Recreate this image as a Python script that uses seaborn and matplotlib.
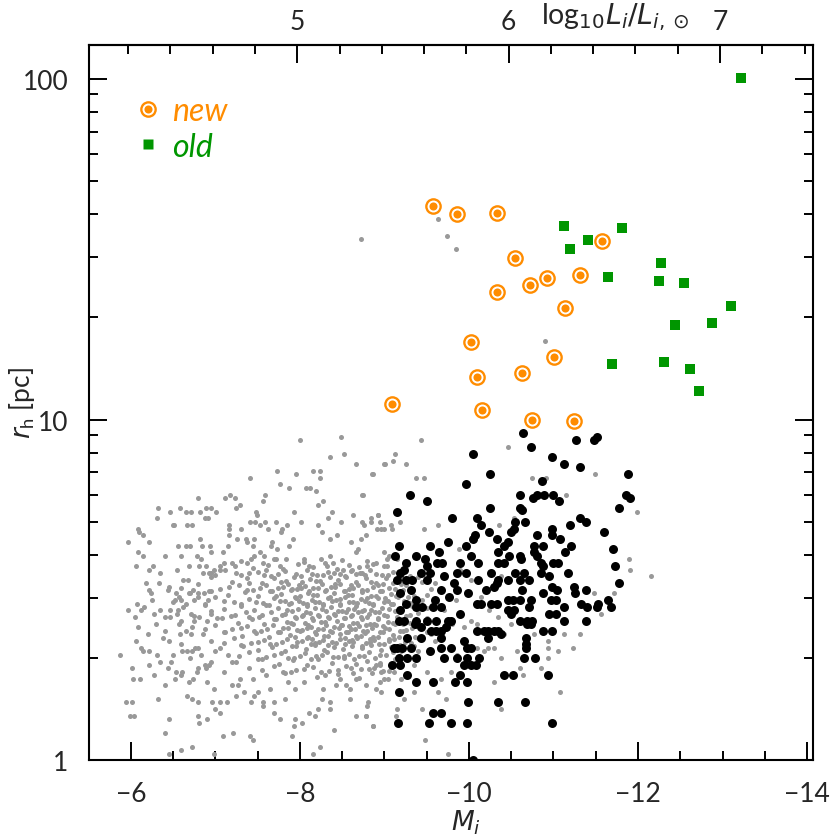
import numpy as np
import matplotlib
matplotlib.use('Agg')
import matplotlib.pyplot as plt
import seaborn as sns
from matplotlib.lines import Line2D
from matplotlib.ticker import FixedLocator, MultipleLocator, FuncFormatter

# ---- data: (M_i, log10 r_h) ----
# full comparison sample (grey dots)
gray_pts = [
    # sparse outskirts, upper part
    (-8.00, 0.94), (-8.49, 0.95), (-8.52, 0.90), (-8.36, 0.89), (-8.67, 0.87), (-9.01, 0.87),
    (-8.86, 0.84), (-8.16, 0.85), (-8.24, 0.85), (-8.24, 0.83), (-7.95, 0.84), (-7.73, 0.85),
    (-7.41, 0.83), (-7.77, 0.81), (-7.87, 0.80), (-8.07, 0.80), (-8.12, 0.80), (-8.19, 0.79),
    (-8.75, 0.78), (-8.28, 0.76), (-8.22, 0.75), (-8.38, 0.73), (-8.63, 0.72), (-7.93, 0.73),
    (-7.59, 0.78), (-7.57, 0.76), (-7.48, 0.73), (-7.49, 0.72), (-7.59, 0.70), (-7.72, 0.70),
    (-7.79, 0.68), (-7.78, 0.67), (-7.85, 0.69), (-7.92, 0.65), (-8.01, 0.70), (-8.21, 0.69),
    (-8.26, 0.67), (-8.33, 0.71), (-8.44, 0.66), (-8.36, 0.65), (-8.49, 0.70), (-8.73, 0.70),
    (-8.76, 0.69), (-8.84, 0.70), (-8.93, 0.72), (-8.95, 0.70), (-8.91, 0.68), (-8.99, 0.68),
    (-9.08, 0.69), (-8.78, 0.66), (-8.72, 0.65), (-8.60, 0.64), (-8.66, 0.61), (-8.69, 0.62),
    (-9.00, 0.61), (-9.05, 0.60), (-9.03, 0.57), (-7.11, 0.77), (-7.17, 0.78), (-7.23, 0.77),
    (-7.25, 0.74), (-7.29, 0.75), (-6.80, 0.77), (-6.32, 0.74), (-6.46, 0.73), (-6.58, 0.74),
    (-6.65, 0.73), (-6.71, 0.73), (-6.82, 0.73), (-6.89, 0.74), (-6.95, 0.74), (-7.01, 0.73),
    (-6.31, 0.71), (-6.51, 0.69), (-6.50, 0.69), (-6.67, 0.69), (-6.73, 0.69), (-6.88, 0.71),
    (-6.91, 0.71), (-7.16, 0.69), (-7.16, 0.68), (-7.16, 0.66), (-7.30, 0.68), (-7.41, 0.70),
    (-7.47, 0.70), (-7.53, 0.69), (-7.62, 0.68), (-6.09, 0.68), (-6.10, 0.67), (-5.97, 0.64),
    (-6.15, 0.66), (-6.22, 0.64), (-6.08, 0.61), (-6.14, 0.60), (-6.06, 0.57), (-6.26, 0.57),
    (-6.22, 0.56), (-6.34, 0.52), (-6.22, 0.50), (-6.24, 0.49), (-6.56, 0.63), (-6.65, 0.63),
    (-6.70, 0.63), (-6.82, 0.65), (-6.84, 0.63), (-6.94, 0.63), (-7.09, 0.61), (-7.15, 0.63),
    (-7.26, 0.65), (-7.36, 0.65), (-7.38, 0.64), (-7.45, 0.63), (-7.46, 0.65), (-7.53, 0.61),
    (-7.67, 0.64), (-7.66, 0.63), (-7.73, 0.62), (-7.87, 0.63), (-6.78, 0.60), (-6.83, 0.59),
    (-6.89, 0.57), (-6.69, 0.57), (-6.81, 0.57), (-6.98, 0.56), (-6.92, 0.55), (-6.95, 0.55),
    (-7.05, 0.56), (-7.10, 0.58), (-7.23, 0.57), (-7.37, 0.58), (-7.42, 0.59), (-7.46, 0.60),
    (-7.58, 0.60), (-7.57, 0.58), (-7.72, 0.59), (-7.77, 0.57), (-7.84, 0.59), (-8.05, 0.59),
    (-8.11, 0.57), (-8.25, 0.59), (-8.32, 0.57), (-8.36, 0.60), (-8.39, 0.58), (-8.51, 0.56),
    (-8.62, 0.56), (-8.73, 0.55), (-8.80, 0.57), (-8.90, 0.58), (-9.03, 0.59),
    # sparse outskirts, left and lower part
    (-5.97, 0.44), (-5.87, 0.31), (-6.02, 0.27), (-6.03, 0.24), (-6.11, 0.24), (-5.94, 0.17),
    (-6.02, 0.17), (-5.99, 0.13), (-6.04, 0.13), (-6.32, 0.18), (-6.22, 0.28), (-6.31, 0.31),
    (-6.41, 0.22), (-6.45, 0.12), (-6.41, 0.08), (-6.45, 0.02), (-6.60, 0.03), (-6.72, 0.04),
    (-6.99, 0.02), (-7.09, 0.07), (-7.21, 0.08), (-7.41, 0.07), (-7.45, 0.06), (-7.91, 0.07),
    (-8.15, 0.02), (-8.24, 0.04), (-8.40, 0.09), (-8.67, 0.13), (-8.78, 0.13), (-8.86, 0.10),
    (-6.05, 0.42), (-6.07, 0.46), (-6.16, 0.45), (-6.12, 0.44), (-6.08, 0.39), (-6.06, 0.35),
    (-6.12, 0.33), (-6.15, 0.32), (-6.22, 0.32), (-6.28, 0.43), (-6.35, 0.44), (-6.41, 0.42),
    (-6.46, 0.42), (-6.46, 0.44), (-6.56, 0.44), (-6.53, 0.49), (-6.57, 0.48), (-6.52, 0.47),
    (-6.60, 0.47), (-6.69, 0.49), (-6.74, 0.50), (-6.79, 0.49), (-6.87, 0.49), (-6.91, 0.47),
    (-6.80, 0.48), (-6.65, 0.46), (-6.71, 0.43), (-6.75, 0.41), (-6.81, 0.42), (-6.60, 0.41),
    (-6.58, 0.37), (-6.65, 0.38), (-6.71, 0.37), (-6.41, 0.38), (-6.45, 0.35), (-6.48, 0.29),
    (-6.54, 0.26), (-6.61, 0.26), (-6.60, 0.25), (-6.52, 0.24), (-6.44, 0.27), (-6.60, 0.34),
    (-6.61, 0.32), (-6.67, 0.32), (-6.73, 0.32), (-6.70, 0.30), (-6.76, 0.33), (-6.80, 0.33),
    (-6.83, 0.31), (-6.88, 0.28), (-6.92, 0.28), (-6.95, 0.29), (-6.89, 0.27), (-6.80, 0.27),
    (-6.78, 0.26), (-6.74, 0.24), (-6.69, 0.23), (-6.67, 0.19), (-6.73, 0.18), (-6.79, 0.17),
    (-6.79, 0.13), (-6.81, 0.11), (-6.90, 0.12), (-6.96, 0.17), (-6.99, 0.21), (-7.00, 0.15),
    (-7.05, 0.17), (-7.05, 0.14), (-7.14, 0.17), (-7.25, 0.19), (-7.34, 0.20), (-7.29, 0.24),
    (-7.27, 0.22), (-7.42, 0.17), (-7.46, 0.19), (-7.51, 0.20), (-7.56, 0.17), (-7.56, 0.16),
    (-7.69, 0.17), (-7.70, 0.14), (-7.76, 0.12), (-7.83, 0.18), (-7.86, 0.23), (-7.94, 0.21),
    (-7.94, 0.12), (-7.93, 0.10), (-8.03, 0.11), (-8.11, 0.14), (-8.18, 0.13), (-8.21, 0.15),
    (-8.26, 0.18), (-8.28, 0.21), (-8.36, 0.17), (-8.36, 0.15), (-8.43, 0.22), (-8.47, 0.24),
    (-8.59, 0.18), (-8.59, 0.21), (-8.67, 0.24), (-8.61, 0.27), (-8.78, 0.22), (-8.81, 0.17),
    (-8.90, 0.21), (-8.95, 0.23), (-8.99, 0.24),
    (-6.30, 0.40), (-6.38, 0.36), (-6.25, 0.47), (-6.44, 0.50), (-6.35, 0.55), (-6.55, 0.56),
    (-6.68, 0.53), (-6.50, 0.31), (-6.35, 0.29), (-6.20, 0.37), (-6.28, 0.25), (-6.90, 0.23),
    (-7.10, 0.26), (-7.20, 0.29), (-7.00, 0.32), (-6.95, 0.43), (-6.57, 0.40), (-6.18, 0.52),
    (-6.40, 0.60), (-6.60, 0.60), (-6.95, 0.61), (-7.25, 0.55), (-7.40, 0.52), (-7.60, 0.56),
    (-7.20, 0.22), (-7.45, 0.24), (-7.65, 0.21), (-7.80, 0.26), (-8.05, 0.23), (-8.30, 0.25),
    (-8.55, 0.22), (-8.95, 0.28), (-9.20, 0.24), (-9.40, 0.32), (-9.60, 0.35), (-9.70, 0.44),
    (-9.85, 0.47), (-9.60, 0.52), (-9.80, 0.40),
    # grey dots among the black ones
    (-9.43, 0.94), (-9.12, 0.90), (-9.10, 0.88), (-9.00, 0.87), (-9.26, 0.87), (-8.85, 0.84),
    (-9.38, 0.83), (-9.47, 0.83), (-8.74, 0.78), (-10.46, 0.92), (-10.75, 0.83), (-10.91, 0.83),
    (-11.15, 0.78), (-11.49, 0.84), (-11.99, 0.73), (-12.15, 0.54), (-11.89, 0.59), (-11.90, 0.56),
    (-8.92, 0.72), (-8.84, 0.71), (-8.96, 0.68), (-9.09, 0.68), (-9.19, 0.70), (-9.47, 0.68),
    (-9.64, 0.69), (-9.88, 0.62), (-10.36, 0.69), (-10.53, 0.71), (-9.90, 0.56), (-10.38, 0.54),
    (-10.02, 0.53), (-10.14, 0.48), (-10.24, 0.44), (-10.34, 0.42), (-10.02, 0.41), (-10.10, 0.40),
    (-9.94, 0.39), (-10.42, 0.37), (-10.50, 0.40), (-10.22, 0.33), (-10.30, 0.33), (-10.38, 0.30),
    (-10.57, 0.32), (-10.93, 0.30), (-11.05, 0.32), (-11.23, 0.33), (-11.08, 0.20), (-10.30, 0.23),
    (-10.38, 0.15), (-9.73, 0.18), (-9.44, 0.15), (-9.75, 0.02), (-9.48, 0.06), (-9.15, 0.15),
    (-9.14, 0.13), (-8.86, 0.10), (-8.80, 0.16), (-8.78, 0.13), (-8.96, 0.20), (-9.04, 0.24),
    (-8.96, 0.26), (-8.88, 0.27), (-9.11, 0.26), (-9.35, 0.28), (-9.51, 0.26), (-9.67, 0.24),
    (-9.79, 0.26), (-9.86, 0.31), (-10.18, 0.32), (-10.10, 0.33), (-10.77, 0.37), (-10.93, 0.35),
    (-11.13, 0.37), (-11.32, 0.37), (-11.56, 0.43), (-11.64, 0.47), (-11.72, 0.49), (-11.48, 0.49),
    (-10.61, 0.27), (-10.64, 0.25), (-10.85, 0.27), (-10.93, 0.33), (-9.63, 0.20), (-9.35, 0.20),
    (-9.23, 0.18),
    # isolated large ones
    (-8.72, 1.53), (-9.64, 1.59), (-9.74, 1.54), (-9.85, 1.50), (-10.90, 1.23),
    # dense core
    (-7.05, .570), (-7.20, .578), (-7.45, .564), (-7.62, .574), (-7.80, .561), (-7.98, .576),
    (-8.15, .567), (-8.30, .579), (-8.44, .563), (-8.58, .572), (-8.70, .566), (-8.86, .577),
    (-9.00, .570),
    (-6.85, .550), (-7.12, .558), (-7.30, .544), (-7.50, .554), (-7.66, .541), (-7.82, .556),
    (-7.95, .547), (-8.08, .559), (-8.20, .543), (-8.33, .552), (-8.47, .546), (-8.60, .557),
    (-8.71, .550), (-8.83, .558), (-8.97, .544), (-9.10, .554), (-9.30, .541),
    (-6.62, .530), (-6.95, .538), (-7.20, .524), (-7.38, .534), (-7.55, .521), (-7.70, .536),
    (-7.84, .527), (-7.93, .539), (-8.02, .523), (-8.12, .532), (-8.24, .526), (-8.36, .537),
    (-8.45, .530), (-8.55, .538), (-8.66, .524), (-8.78, .534), (-8.90, .521), (-9.02, .536),
    (-9.15, .527), (-9.40, .539),
    (-6.45, .510), (-6.80, .518), (-7.05, .504), (-7.28, .514), (-7.45, .501), (-7.60, .516),
    (-7.74, .507), (-7.86, .519), (-7.97, .503), (-8.06, .512), (-8.16, .506), (-8.26, .517),
    (-8.37, .510), (-8.48, .518), (-8.58, .504), (-8.69, .514), (-8.80, .501), (-8.92, .516),
    (-9.05, .507), (-9.20, .519), (-9.55, .503),
    (-6.70, .490), (-6.95, .498), (-7.15, .484), (-7.35, .494), (-7.50, .481), (-7.65, .496),
    (-7.78, .487), (-7.90, .499), (-8.00, .483), (-8.10, .492), (-8.20, .486), (-8.30, .497),
    (-8.41, .490), (-8.52, .498), (-8.62, .484), (-8.73, .494), (-8.84, .481), (-8.95, .496),
    (-9.08, .487), (-9.22, .499), (-9.35, .483),
    (-6.75, .470), (-7.00, .478), (-7.22, .464), (-7.40, .474), (-7.56, .461), (-7.70, .476),
    (-7.83, .467), (-7.94, .479), (-8.04, .463), (-8.14, .472), (-8.23, .466), (-8.33, .477),
    (-8.43, .470), (-8.53, .478), (-8.63, .464), (-8.72, .474), (-8.82, .461), (-8.93, .476),
    (-9.04, .467), (-9.16, .479), (-9.30, .463), (-9.45, .472),
    (-6.62, .450), (-6.88, .458), (-7.10, .444), (-7.30, .454), (-7.46, .441), (-7.60, .456),
    (-7.74, .447), (-7.87, .459), (-7.98, .443), (-8.08, .452), (-8.18, .446), (-8.27, .457),
    (-8.37, .450), (-8.47, .458), (-8.57, .444), (-8.66, .454), (-8.76, .441), (-8.86, .456),
    (-8.97, .447), (-9.08, .459), (-9.20, .443), (-9.33, .452), (-9.50, .446),
    (-6.55, .430), (-6.95, .438), (-7.18, .424), (-7.36, .434), (-7.52, .421), (-7.66, .436),
    (-7.79, .427), (-7.91, .439), (-8.02, .423), (-8.12, .432), (-8.22, .426), (-8.31, .437),
    (-8.40, .430), (-8.50, .438), (-8.60, .424), (-8.69, .434), (-8.79, .421), (-8.89, .436),
    (-9.00, .427), (-9.12, .439), (-9.25, .423), (-9.40, .432),
    (-6.90, .410), (-7.08, .418), (-7.27, .404), (-7.44, .414), (-7.58, .401), (-7.72, .416),
    (-7.85, .407), (-7.96, .419), (-8.06, .403), (-8.16, .412), (-8.25, .406), (-8.34, .417),
    (-8.44, .410), (-8.54, .418), (-8.63, .404), (-8.73, .414), (-8.83, .401), (-8.93, .416),
    (-9.04, .407), (-9.16, .419), (-9.30, .403), (-9.48, .412),
    (-6.72, .390), (-7.00, .398), (-7.20, .384), (-7.38, .394), (-7.54, .381), (-7.68, .396),
    (-7.80, .387), (-7.92, .399), (-8.03, .383), (-8.13, .392), (-8.22, .386), (-8.31, .397),
    (-8.41, .390), (-8.50, .398), (-8.60, .384), (-8.70, .394), (-8.80, .381), (-8.90, .396),
    (-9.01, .387), (-9.13, .399), (-9.26, .383), (-9.42, .392), (-9.60, .386),
    (-6.85, .370), (-7.12, .378), (-7.32, .364), (-7.48, .374), (-7.63, .361), (-7.76, .376),
    (-7.88, .367), (-8.00, .379), (-8.10, .363), (-8.19, .372), (-8.29, .366), (-8.38, .377),
    (-8.48, .370), (-8.57, .378), (-8.67, .364), (-8.77, .374), (-8.87, .361), (-8.98, .376),
    (-9.10, .367), (-9.22, .379), (-9.36, .363), (-9.55, .372),
    (-6.95, .350), (-7.22, .358), (-7.42, .344), (-7.58, .354), (-7.72, .341), (-7.85, .356),
    (-7.97, .347), (-8.08, .359), (-8.18, .343), (-8.28, .352), (-8.38, .346), (-8.48, .357),
    (-8.58, .350), (-8.68, .358), (-8.78, .344), (-8.88, .354), (-8.99, .341), (-9.11, .356),
    (-9.24, .347), (-9.40, .359),
    (-7.05, .330), (-7.30, .338), (-7.50, .324), (-7.67, .334), (-7.82, .321), (-7.95, .336),
    (-8.07, .327), (-8.18, .339), (-8.29, .323), (-8.40, .332), (-8.51, .326), (-8.62, .337),
    (-8.73, .330), (-8.84, .338), (-8.96, .324), (-9.08, .334), (-9.20, .321), (-9.35, .336),
    (-7.15, .310), (-7.40, .318), (-7.60, .304), (-7.78, .314), (-7.93, .301), (-8.06, .316),
    (-8.19, .307), (-8.32, .319), (-8.45, .303), (-8.58, .312), (-8.70, .306), (-8.82, .317),
    (-8.95, .310), (-9.10, .318), (-9.25, .304),
    (-7.25, .290), (-7.55, .298), (-7.75, .284), (-7.92, .294), (-8.08, .281), (-8.22, .296),
    (-8.38, .287), (-8.52, .299), (-8.66, .283), (-8.80, .292), (-8.95, .286), (-9.12, .297),
    (-7.40, .270), (-7.70, .278), (-7.95, .264), (-8.15, .274), (-8.35, .261), (-8.55, .276),
    (-8.72, .267), (-8.90, .279), (-9.05, .263),
    (-7.60, .250), (-7.90, .258), (-8.20, .244), (-8.45, .254), (-8.70, .241), (-8.85, .256),
    (-7.78, .522), (-7.99, .516), (-8.19, .525), (-8.42, .518), (-8.61, .514), (-8.84, .524),
    (-8.98, .517), (-9.10, .521), (-9.25, .515), (-9.45, .523),
    (-7.72, .482), (-7.95, .476), (-8.15, .485), (-8.36, .478), (-8.47, .474), (-8.57, .484),
    (-8.79, .477), (-8.90, .481), (-9.01, .475), (-9.14, .483), (-9.28, .479), (-9.50, .486),
    (-7.85, .442), (-8.07, .436), (-8.26, .445), (-8.45, .438), (-8.55, .434), (-8.64, .444),
    (-8.74, .437), (-8.84, .441), (-8.94, .435), (-9.06, .443), (-9.18, .439), (-9.36, .446),
    (-7.90, .402), (-8.10, .396), (-8.30, .405), (-8.49, .398), (-8.58, .394), (-8.68, .404),
    (-8.78, .397), (-8.88, .401), (-8.98, .395), (-9.10, .403), (-9.22, .399), (-9.38, .406),
    (-7.94, .362), (-8.14, .356), (-8.33, .365), (-8.53, .358), (-8.62, .354), (-8.72, .364),
    (-8.83, .357), (-8.93, .361), (-9.05, .355), (-9.17, .363),
    (-7.30, .585), (-7.70, .590), (-8.05, .582), (-8.50, .588), (-8.80, .584), (-9.15, .590),
    (-7.00, .545), (-7.40, .549), (-7.58, .543), (-7.74, .548), (-8.01, .542), (-8.14, .547),
    (-8.27, .544), (-8.40, .549), (-8.53, .541), (-8.66, .546), (-8.77, .543), (-8.90, .548),
    (-9.04, .545), (-9.20, .542),
    (-6.60, .505), (-6.92, .497), (-7.16, .508), (-7.37, .500), (-7.53, .506), (-7.67, .496),
    (-7.80, .509), (-7.91, .502), (-8.01, .507), (-8.11, .498), (-8.21, .505), (-8.31, .500),
    (-8.42, .508), (-8.53, .497), (-8.63, .506), (-8.74, .501), (-8.86, .509), (-8.97, .498),
    (-9.12, .504), (-9.30, .500),
    (-6.50, .465), (-6.88, .457), (-7.10, .468), (-7.30, .460), (-7.48, .466), (-7.63, .456),
    (-7.76, .469), (-7.89, .462), (-7.99, .467), (-8.09, .458), (-8.18, .465), (-8.28, .460),
    (-8.38, .468), (-8.48, .457), (-8.58, .466), (-8.68, .461), (-8.77, .469), (-8.87, .458),
    (-8.99, .464), (-9.10, .460), (-9.23, .467), (-9.38, .457),
    (-6.75, .425), (-7.02, .417), (-7.23, .428), (-7.40, .420), (-7.55, .426), (-7.69, .416),
    (-7.82, .429), (-7.94, .422), (-8.04, .427), (-8.14, .418), (-8.23, .425), (-8.33, .420),
    (-8.42, .428), (-8.52, .417), (-8.62, .426), (-8.72, .421), (-8.82, .429), (-8.92, .418),
    (-9.03, .424), (-9.15, .420), (-9.30, .427), (-9.50, .417),
    (-6.88, .385), (-7.10, .377), (-7.30, .388), (-7.46, .380), (-7.61, .386), (-7.74, .376),
    (-7.86, .389), (-7.97, .382), (-8.08, .387), (-8.18, .378), (-8.27, .385), (-8.36, .380),
    (-8.46, .388), (-8.55, .377), (-8.65, .386), (-8.75, .381), (-8.85, .389), (-8.95, .378),
    (-9.06, .384), (-9.18, .380), (-9.33, .387), (-9.50, .377),
    (-7.10, .345), (-7.33, .337), (-7.50, .348), (-7.65, .340), (-7.79, .346), (-7.91, .336),
    (-8.03, .349), (-8.13, .342), (-8.23, .347), (-8.33, .338), (-8.43, .345), (-8.53, .340),
    (-8.63, .348), (-8.73, .337), (-8.83, .346), (-8.94, .341), (-9.05, .349), (-9.18, .338),
    (-9.32, .344),
    (-7.28, .305), (-7.50, .297), (-7.70, .308), (-7.86, .300), (-8.00, .306), (-8.13, .296),
    (-8.26, .309), (-8.39, .302), (-8.52, .307), (-8.64, .298), (-8.76, .305), (-8.89, .300),
    (-9.02, .308), (-9.18, .297),
    (-7.55, .265), (-7.82, .257), (-8.05, .268), (-8.25, .260), (-8.45, .266), (-8.63, .256),
    (-8.82, .269), (-8.98, .262),
]

# bright subsample (black dots)
black_pts = [
    (-10.64, 0.96), (-10.74, 0.92), (-11.27, 0.94), (-11.48, 0.94), (-11.51, 0.95),
    (-10.05, 0.90), (-10.98, 0.89), (-11.13, 0.87), (-11.32, 0.86), (-11.88, 0.84),
    (-10.25, 0.84), (-10.86, 0.82), (-9.96, 0.81), (-9.30, 0.78), (-10.61, 0.78),
    (-10.76, 0.77), (-10.81, 0.78), (-10.89, 0.78), (-11.00, 0.78), (-11.07, 0.76),
    (-11.86, 0.78), (-11.90, 0.77), (-9.51, 0.76), (-9.15, 0.73), (-10.25, 0.74),
    (-10.61, 0.74), (-10.63, 0.735), (-11.78, 0.74), (-9.80, 0.71), (-10.09, 0.71),
    (-10.14, 0.69), (-10.55, 0.70), (-10.66, 0.70), (-11.32, 0.71), (-11.39, 0.70),
    (-10.07, 0.66), (-10.05, 0.65), (-10.24, 0.67), (-10.98, 0.68), (-10.98, 0.66),
    (-11.19, 0.69), (-11.08, 0.65), (-11.60, 0.67), (-10.50, 0.67), (-10.53, 0.68),
    (-10.33, 0.65), (-10.81, 0.66), (-10.88, 0.63), (-9.17, 0.63), (-9.54, 0.63),
    (-9.75, 0.64), (-9.97, 0.63), (-10.41, 0.63), (-10.46, 0.64), (-10.77, 0.63),
    (-11.21, 0.63), (-11.14, 0.61), (-11.71, 0.62), (-9.12, 0.60), (-9.37, 0.60),
    (-9.65, 0.61), (-10.02, 0.60), (-10.35, 0.61), (-10.47, 0.60), (-10.77, 0.61),
    (-10.81, 0.60), (-10.60, 0.60), (-9.48, 0.59), (-9.26, 0.58), (-9.23, 0.56),
    (-9.51, 0.57), (-9.62, 0.58), (-9.68, 0.58), (-9.90, 0.58), (-10.11, 0.58),
    (-10.35, 0.58), (-10.42, 0.58), (-10.62, 0.59), (-10.85, 0.58), (-10.99, 0.58),
    (-11.05, 0.58), (-11.17, 0.55), (-11.73, 0.57), (-9.19, 0.55), (-9.43, 0.55),
    (-9.54, 0.55), (-9.71, 0.54), (-9.86, 0.55), (-9.97, 0.55), (-10.26, 0.55),
    (-10.54, 0.55), (-10.65, 0.55), (-10.88, 0.57), (-10.85, 0.55), (-10.95, 0.54),
    (-9.15, 0.53), (-9.26, 0.53), (-9.33, 0.53), (-9.51, 0.53), (-10.11, 0.53),
    (-10.34, 0.53), (-10.46, 0.53), (-10.61, 0.53), (-10.71, 0.53), (-11.78, 0.52),
    (-9.31, 0.50), (-9.19, 0.49), (-9.67, 0.50), (-9.82, 0.52), (-9.86, 0.50),
    (-9.99, 0.49), (-10.20, 0.50), (-10.30, 0.51), (-10.33, 0.52), (-10.63, 0.50),
    (-10.88, 0.49), (-10.98, 0.51), (-11.04, 0.50), (-11.24, 0.51), (-11.26, 0.49),
    (-11.39, 0.50), (-9.26, 0.46), (-9.37, 0.47), (-9.60, 0.47), (-9.77, 0.48),
    (-10.10, 0.46), (-10.26, 0.46), (-10.33, 0.46), (-10.46, 0.47), (-10.52, 0.47),
    (-10.61, 0.47), (-10.73, 0.47), (-10.97, 0.47), (-11.03, 0.47), (-11.64, 0.47),
    (-9.19, 0.44), (-9.38, 0.45), (-9.44, 0.45), (-9.57, 0.45), (-9.67, 0.45),
    (-9.90, 0.43), (-10.14, 0.46), (-10.46, 0.44), (-10.53, 0.44), (-10.71, 0.45),
    (-11.13, 0.45), (-11.33, 0.46), (-11.40, 0.45), (-11.53, 0.46), (-11.52, 0.45),
    (-11.68, 0.45), (-9.17, 0.41), (-9.23, 0.41), (-9.37, 0.41), (-9.51, 0.41),
    (-9.61, 0.41), (-9.75, 0.41), (-9.79, 0.41), (-10.50, 0.43), (-10.61, 0.41),
    (-10.69, 0.41), (-10.75, 0.41), (-10.95, 0.43), (-11.03, 0.43), (-11.13, 0.41),
    (-11.39, 0.41), (-9.36, 0.40), (-9.43, 0.39), (-9.55, 0.38), (-9.61, 0.38),
    (-9.67, 0.38), (-9.73, 0.39), (-10.10, 0.38), (-10.18, 0.38), (-10.22, 0.38),
    (-10.30, 0.38), (-10.35, 0.38), (-10.38, 0.37), (-10.69, 0.40), (-10.73, 0.40),
    (-9.27, 0.36), (-9.43, 0.36), (-9.67, 0.36), (-9.94, 0.35), (-10.22, 0.36),
    (-10.67, 0.36), (-10.88, 0.38), (-10.98, 0.38), (-9.11, 0.33), (-9.15, 0.33),
    (-9.21, 0.33), (-9.31, 0.33), (-9.54, 0.32), (-9.67, 0.33), (-9.79, 0.33),
    (-9.98, 0.33), (-10.02, 0.33), (-10.67, 0.34), (-10.68, 0.33), (-9.17, 0.30),
    (-9.27, 0.30), (-9.37, 0.30), (-9.71, 0.30), (-9.86, 0.30), (-9.98, 0.30),
    (-10.12, 0.30), (-10.65, 0.30), (-10.78, 0.30), (-9.09, 0.28), (-9.19, 0.28),
    (-9.27, 0.25), (-9.37, 0.23), (-9.58, 0.23), (-9.90, 0.25), (-9.94, 0.28),
    (-10.02, 0.28), (-10.08, 0.28), (-9.84, 0.23), (-9.98, 0.23), (-10.42, 0.25),
    (-10.52, 0.25), (-10.94, 0.25), (-9.17, 0.20), (-9.99, 0.17), (-10.34, 0.17),
    (-10.66, 0.17), (-9.57, 0.14), (-9.67, 0.14), (-9.16, 0.11), (-9.53, 0.11),
    (-9.79, 0.11), (-9.98, 0.11), (-10.98, 0.11), (-10.05, 0.0),
]

# newly found objects (orange rings): M_i, r_h [pc]
new_M = [-9.57, -9.86, -10.33, -11.57, -10.54, -11.31, -10.92, -10.72, -10.33,
         -11.14, -10.03, -11.01, -10.63, -10.10, -10.16, -10.75, -11.24, -9.09]
new_rh = [42.5, 40.1, 40.4, 33.5, 29.9, 26.5, 26.0, 24.9, 23.7,
          21.3, 16.9, 15.3, 13.7, 13.3, 10.7, 10.0, 9.9, 11.1]

# previously known objects (green squares)
old_M = [-11.13, -11.81, -11.41, -11.19, -12.27, -11.64, -12.25, -12.54,
         -13.10, -12.87, -12.44, -11.69, -12.31, -12.62, -12.72, -13.22]
old_rh = [36.9, 36.4, 33.7, 31.7, 28.9, 26.2, 25.5, 25.2,
          21.6, 19.2, 18.9, 14.6, 14.8, 14.1, 12.1, 100.7]

M_SUN_I = 4.53
orange = '#FF8C00'
green = '#009600'
grey = '#999999'

gray_arr = np.array(gray_pts)
black_arr = np.array(black_pts)

sns.set_theme(style='ticks')
plt.rcParams['font.family'] = ['Lato', 'DejaVu Sans']
plt.rcParams['mathtext.fontset'] = 'dejavusans'

fig = plt.figure(figsize=(8.31, 8.37), dpi=100)
ax = fig.add_axes([0.1075, 0.0904, 0.8708, 0.8550])

sns.scatterplot(x=gray_arr[:, 0], y=10 ** gray_arr[:, 1], color=grey, s=13,
                linewidth=0, ax=ax, zorder=1, legend=False)
sns.scatterplot(x=black_arr[:, 0], y=10 ** black_arr[:, 1], color='black', s=42,
                linewidth=0, ax=ax, zorder=2, legend=False)
# ring markers: orange disc, white ring, orange dot
sns.scatterplot(x=new_M, y=new_rh, color=orange, s=144, linewidth=0, ax=ax, zorder=3, legend=False)
sns.scatterplot(x=new_M, y=new_rh, color='white', s=74, linewidth=0, ax=ax, zorder=4, legend=False)
sns.scatterplot(x=new_M, y=new_rh, color=orange, s=34, linewidth=0, ax=ax, zorder=5, legend=False)
sns.scatterplot(x=old_M, y=old_rh, color=green, marker='s', s=52, linewidth=0, ax=ax,
                zorder=3, legend=False)

ax.set_yscale('log')
ax.set_xlim(-5.51, -14.07)
ax.set_ylim(1, 126)
ax.xaxis.set_major_locator(FixedLocator([-6, -8, -10, -12, -14]))
ax.xaxis.set_minor_locator(MultipleLocator(0.5))
ax.yaxis.set_major_formatter(FuncFormatter(lambda v, p: f'{v:g}'))

ax.tick_params(axis='x', which='both', direction='in', top=False, bottom=True,
               labelsize=19, pad=15)
ax.tick_params(axis='y', which='both', direction='in', left=True, right=True,
               labelsize=19, pad=15)
ax.tick_params(which='major', length=13, width=1.4, color='black')
ax.tick_params(which='minor', length=6.5, width=1.4, color='black')
for sp in ax.spines.values():
    sp.set_linewidth(1.5)
    sp.set_color('black')

ax.set_xlabel(r'$M_i$', fontsize=19)
ax.xaxis.set_label_coords(0.52, -0.066)
ax.set_ylabel(r'$r_\mathregular{h}$ [pc]', fontsize=19)
ax.yaxis.set_label_coords(-0.072, 0.5)

secax = ax.secondary_xaxis('top', functions=(lambda m: (M_SUN_I - m) / 2.5,
                                             lambda l: M_SUN_I - 2.5 * l))
secax.xaxis.set_major_locator(FixedLocator([5, 6, 7]))
secax.xaxis.set_minor_locator(MultipleLocator(0.2))
secax.tick_params(which='both', direction='in', labelsize=19, pad=8, color='black', width=1.4)
secax.tick_params(which='major', length=13)
secax.tick_params(which='minor', length=6.5)
secax.spines['top'].set_linewidth(1.5)
fig.text(0.74, 0.979, r'$\mathregular{log}_{10}L_i/L_{i,\odot}$', fontsize=20.5,
         ha='center', va='center')

h_new = (Line2D([], [], ls='none', marker='o', ms=12, mfc=orange, mec='none'),
         Line2D([], [], ls='none', marker='o', ms=8.6, mfc='white', mec='none'),
         Line2D([], [], ls='none', marker='o', ms=5.8, mfc=orange, mec='none'))
h_old = Line2D([], [], ls='none', marker='s', ms=7.2, mfc=green, mec='none')
ax.legend([h_new, h_old], ['new', 'old'], loc='upper left', bbox_to_anchor=(0.0417, 0.9455),
          borderaxespad=0, frameon=False, handlelength=1.0, handletextpad=0.25,
          labelspacing=0.16, prop={'style': 'italic', 'size': 23},
          labelcolor=[orange, green])

plt.savefig('out.png', dpi=100)
